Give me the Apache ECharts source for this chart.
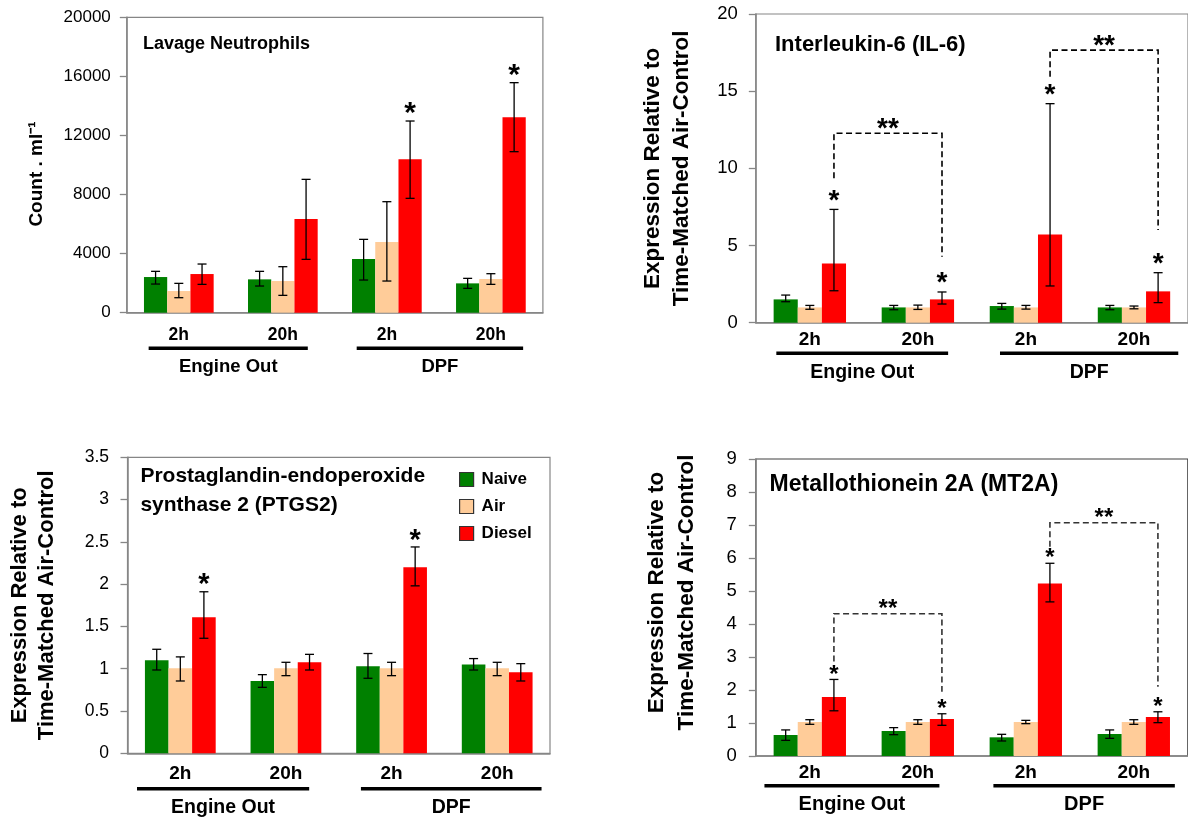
<!DOCTYPE html>
<html>
<head>
    <meta charset="utf-8">
    <title>Lavage neutrophils and gene expression</title>
    <script src="https://cdn.jsdelivr.net/npm/echarts@6/dist/echarts.min.js"></script>
    <style>
        html, body { margin: 0; padding: 0; background: #fff; }
    </style>
</head>
<body>
    <div id="myChart" style="width: 1188px;height:822px;"></div>
    <script>
        var categories = ['2h', '20h', '2h', '20h'];
        var groups = ['Engine Out', 'DPF'];
        var seriesNames = ['Naive', 'Air', 'Diesel'];
        var colors = ['#008000', '#FFCC99', '#FF0000'];

        // Lavage neutrophils (count . ml-1)
        var neutNaive = [2415, 2257, 3634, 1986];
        var neutAir = [1467, 2144, 4785, 2280];
        var neutDiesel = [2618, 6343, 10383, 13226];
        var neutNaiveErr = [[1940, 2800], [1806, 2800], [2212, 4966], [1648, 2325]];
        var neutAirErr = [[1016, 1986], [1174, 3115], [2144, 7516], [1919, 2641]];
        var neutDieselErr = [[1918, 3295], [3611, 9028], [7742, 12978], [10902, 15574]];
        var neutStars = [0, 0, 1, 1];
        var neutBrackets = [];

        // IL-6
        var il6Naive = [1.51, 0.99, 1.08, 0.99];
        var il6Air = [0.99, 0.99, 0.99, 0.99];
        var il6Diesel = [3.84, 1.51, 5.72, 2.03];
        var il6NaiveErr = [[1.36, 1.79], [0.84, 1.12], [0.88, 1.25], [0.84, 1.12]];
        var il6AirErr = [[0.87, 1.12], [0.86, 1.14], [0.88, 1.12], [0.9, 1.08]];
        var il6DieselErr = [[2.07, 7.34], [1.21, 1.99], [2.38, 14.19], [1.30, 3.24]];
        var il6Stars = [1, 1, 1, 1];
        // [from, to, top, left end, right end]
        var il6Brackets = [[0, 1, 12.27, 9.36, 4.28], [2, 3, 17.66, 15.94, 6.0]];

        // PTGS2
        var ptgsNaive = [1.10, 0.855, 1.03, 1.05];
        var ptgsAir = [1.005, 1.005, 1.005, 1.005];
        var ptgsDiesel = [1.61, 1.076, 2.20, 0.958];
        var ptgsNaiveErr = [[0.985, 1.23], [0.78, 0.93], [0.887, 1.18], [0.985, 1.12]];
        var ptgsAirErr = [[0.855, 1.14], [0.918, 1.076], [0.918, 1.076], [0.918, 1.076]];
        var ptgsDieselErr = [[1.36, 1.91], [0.985, 1.17], [1.98, 2.44], [0.855, 1.06]];
        var ptgsStars = [1, 0, 1, 0];
        var ptgsBrackets = [];

        // MT2A
        var mtNaive = [0.636, 0.757, 0.566, 0.667];
        var mtAir = [1.03, 1.03, 1.03, 1.03];
        var mtDiesel = [1.79, 1.12, 5.23, 1.18];
        var mtNaiveErr = [[0.475, 0.79], [0.646, 0.86], [0.455, 0.657], [0.535, 0.79]];
        var mtAirErr = [[0.96, 1.1], [0.96, 1.1], [0.98, 1.08], [0.96, 1.1]];
        var mtDieselErr = [[1.37, 2.32], [0.93, 1.28], [4.67, 5.84], [1.01, 1.34]];
        var mtStars = [1, 1, 1, 1];
        var mtBrackets = [[0, 1, 4.31, 2.86, 1.95], [2, 3, 7.07, 6.34, 2.1]];

        var FONT = '"Liberation Sans", Arial, sans-serif';
        var GAP = 0.33; // bar category gap

        var panels = [
            {
                values: [neutNaive, neutAir, neutDiesel], errs: [neutNaiveErr, neutAirErr, neutDieselErr],
                stars: neutStars, brackets: neutBrackets,
                grid: { left: 126.8, top: 17.3, width: 416.1, height: 295.4 },
                max: 20000, step: 4000, frame: '#868686',
                tickFont: 17, tickGap: 16, catFont: 17.5, catGap: 13,
                yName: 'Count . ml⁻¹', nameFont: 19, nameLH: 22, nameGap: 79, namePad: [0, 18, 0, 0],
                title: 'Lavage Neutrophils', titleX: 142.9, titleY: 35, titleFont: 18, titleLH: 18,
                groupFont: 18.5, lineDy: 35.6, labelDy: 54.3,
                spans: [[-0.29, 0.24], [-0.29, 0.31]],
                starFont: 30, starLift: 14, dash: '#000'
            },
            {
                values: [il6Naive, il6Air, il6Diesel], errs: [il6NaiveErr, il6AirErr, il6DieselErr],
                stars: il6Stars, brackets: il6Brackets,
                grid: { left: 755.8, top: 14, width: 433.6, height: 308.7 },
                max: 20, step: 5, frame: '#868686',
                tickFont: 18.5, tickGap: 18, catFont: 19, catGap: 8,
                yName: 'Expression Relative to\nTime-Matched Air-Control', nameFont: 22.5, nameLH: 29, nameGap: 60, namePad: [0, 0, 0, 0],
                title: 'Interleukin-6 (IL-6)', titleX: 775, titleY: 34, titleFont: 22, titleLH: 22,
                groupFont: 19.5, lineDy: 30.6, labelDy: 50.3,
                spans: [[-0.31, 0.28], [-0.24, 0.41]],
                starFont: 28, starLift: 15, dash: '#000'
            },
            {
                values: [ptgsNaive, ptgsAir, ptgsDiesel], errs: [ptgsNaiveErr, ptgsAirErr, ptgsDieselErr],
                stars: ptgsStars, brackets: ptgsBrackets,
                grid: { left: 127.5, top: 457.3, width: 422.5, height: 296 },
                max: 3.5, step: 0.5, frame: '#868686',
                tickFont: 17.5, tickGap: 18.5, catFont: 19, catGap: 11,
                yName: 'Expression Relative to\nTime-Matched Air-Control', nameFont: 22, nameLH: 27, nameGap: 67, namePad: [0, 0, 0, 0],
                title: 'Prostaglandin-endoperoxide\nsynthase 2 (PTGS2)', titleX: 140.4, titleY: 462.5, titleFont: 21, titleLH: 28.3,
                groupFont: 19.5, lineDy: 35.4, labelDy: 54.7,
                spans: [[-0.41, 0.22], [-0.29, 0.42]],
                starFont: 29, starLift: 13, dash: '#000'
            },
            {
                values: [mtNaive, mtAir, mtDiesel], errs: [mtNaiveErr, mtAirErr, mtDieselErr],
                stars: mtStars, brackets: mtBrackets,
                grid: { left: 755.8, top: 459, width: 432, height: 297 },
                max: 9, step: 1, frame: '#404040',
                tickFont: 18.5, tickGap: 19, catFont: 19, catGap: 7,
                yName: 'Expression Relative to\nTime-Matched Air-Control', nameFont: 22.5, nameLH: 30, nameGap: 54, namePad: [0, 0, 0, 30],
                title: 'Metallothionein 2A (MT2A)', titleX: 769.6, titleY: 473.5, titleFont: 23, titleLH: 23,
                groupFont: 20, lineDy: 29.7, labelDy: 48.7,
                spans: [[-0.42, 0.20], [-0.30, 0.38]],
                starFont: 24, starLift: 10, dash: '#333'
            }
        ];

        function barOffset(api, s) {
            var band = api.size([1, 0])[0];
            var bw = band * (1 - GAP) / 3;
            return (s - 1) * bw;
        }

        function makeErrRender(s, p) {
            return function (params, api) {
                var idx = api.value(0);
                var x = api.coord([idx, 0])[0] + barOffset(api, s);
                var lo = api.coord([idx, api.value(1)])[1];
                var hi = api.coord([idx, api.value(2)])[1];
                var w = 4.5;
                var st = { stroke: '#000', lineWidth: 1.3 };
                var kids = [
                    { type: 'line', shape: { x1: x, y1: lo, x2: x, y2: hi }, style: st },
                    { type: 'line', shape: { x1: x - w, y1: lo, x2: x + w, y2: lo }, style: st },
                    { type: 'line', shape: { x1: x - w, y1: hi, x2: x + w, y2: hi }, style: st }
                ];
                if (api.value(3)) {
                    kids.push({
                        type: 'text',
                        style: {
                            text: '*', x: x, y: hi - p.starLift + 0.23 * p.starFont,
                            align: 'center', verticalAlign: 'middle',
                            font: 'bold ' + p.starFont + 'px ' + FONT, fill: '#000'
                        }
                    });
                }
                return { type: 'group', children: kids };
            };
        }

        function makeBracketRender(p) {
            return function (params, api) {
                var off = barOffset(api, 2);
                var x1 = api.coord([api.value(0), 0])[0] + off;
                var x2 = api.coord([api.value(1), 0])[0] + off;
                var yt = api.coord([0, api.value(2)])[1];
                var y1 = api.coord([0, api.value(3)])[1];
                var y2 = api.coord([0, api.value(4)])[1];
                return {
                    type: 'group',
                    children: [
                        {
                            type: 'polyline',
                            shape: { points: [[x1, y1], [x1, yt], [x2, yt], [x2, y2]] },
                            style: { stroke: p.dash, lineWidth: 1.6, lineDash: [6, 3.5], fill: null }
                        },
                        {
                            type: 'text',
                            style: {
                                text: '**', x: (x1 + x2) / 2, y: yt - 10 + 0.23 * p.starFont,
                                align: 'center', verticalAlign: 'middle',
                                font: 'bold ' + p.starFont + 'px ' + FONT, fill: '#000'
                            }
                        }
                    ]
                };
            };
        }

        var grids = [], xAxes = [], yAxes = [], series = [], titles = [];

        panels.forEach(function (p, i) {
            grids.push({
                left: p.grid.left, top: p.grid.top, width: p.grid.width, height: p.grid.height,
                show: true, borderColor: p.frame, borderWidth: 1.2, backgroundColor: 'transparent'
            });
            xAxes.push({
                gridIndex: i, type: 'category', data: categories,
                axisTick: { show: false },
                axisLine: { lineStyle: { color: '#868686', width: 1.5 } },
                axisLabel: { margin: p.catGap, fontSize: p.catFont, fontWeight: 'bold', color: '#000', fontFamily: FONT, interval: 0 }
            });
            yAxes.push({
                gridIndex: i, type: 'value', min: 0, max: p.max, interval: p.step,
                splitLine: { show: false },
                axisLine: { show: true, lineStyle: { color: '#868686', width: 1.5 } },
                axisTick: { show: true, length: 7, lineStyle: { color: '#868686', width: 1.3 } },
                axisLabel: {
                    margin: p.tickGap, fontSize: p.tickFont, color: '#000', fontFamily: FONT,
                    formatter: function (v) { return String(v); }
                },
                name: p.yName, nameLocation: 'middle', nameGap: p.nameGap,
                nameTextStyle: {
                    fontSize: p.nameFont, fontWeight: 'bold', color: '#000', fontFamily: FONT,
                    lineHeight: p.nameLH, padding: p.namePad
                }
            });
            titles.push({
                text: p.title, left: p.titleX, top: p.titleY, padding: 0,
                textStyle: { fontSize: p.titleFont, fontWeight: 'bold', color: '#000', fontFamily: FONT, lineHeight: p.titleLH }
            });
            for (var s = 0; s < 3; s++) {
                series.push({
                    type: 'bar', name: seriesNames[s], xAxisIndex: i, yAxisIndex: i,
                    data: p.values[s], barGap: '0%', barCategoryGap: (GAP * 100) + '%',
                    itemStyle: { color: colors[s] }, silent: true
                });
            }
            for (var s2 = 0; s2 < 3; s2++) {
                series.push({
                    type: 'custom', xAxisIndex: i, yAxisIndex: i, z: 5, silent: true,
                    renderItem: makeErrRender(s2, p),
                    encode: { x: 0, y: [1, 2] },
                    data: p.errs[s2].map(function (e, k) {
                        return [k, e[0], e[1], s2 === 2 ? p.stars[k] : 0];
                    })
                });
            }
            if (p.brackets.length) {
                series.push({
                    type: 'custom', xAxisIndex: i, yAxisIndex: i, z: 6, silent: true,
                    renderItem: makeBracketRender(p),
                    encode: { x: [0, 1], y: [2, 3, 4] },
                    data: p.brackets
                });
            }
        });

        var option = {
            animation: false,
            backgroundColor: '#fff',
            title: titles,
            legend: {
                data: seriesNames, orient: 'vertical', left: 459, top: 471, padding: 0,
                itemWidth: 14, itemHeight: 14, itemGap: 10, icon: 'rect',
                itemStyle: { borderColor: '#333', borderWidth: 1.2 },
                textStyle: { fontSize: 17, fontWeight: 'bold', color: '#000', fontFamily: FONT, lineHeight: 17, padding: [0, 0, 0, 3] },
                selectedMode: false
            },
            grid: grids,
            xAxis: xAxes,
            yAxis: yAxes,
            series: series
        };

        var myChart = echarts.init(document.getElementById('myChart'));
        myChart.setOption(option);

        // group lines and labels below the category labels
        var graphics = [];
        panels.forEach(function (p, i) {
            var c0 = myChart.convertToPixel({ gridIndex: i }, [0, 0]);
            var c1 = myChart.convertToPixel({ gridIndex: i }, [1, 0]);
            var band = c1[0] - c0[0];
            groups.forEach(function (name, g) {
                var a = myChart.convertToPixel({ gridIndex: i }, [g * 2, 0]);
                var b = myChart.convertToPixel({ gridIndex: i }, [g * 2 + 1, 0]);
                var x1 = a[0] + p.spans[g][0] * band;
                var x2 = b[0] + p.spans[g][1] * band;
                graphics.push({
                    type: 'line', silent: true,
                    shape: { x1: x1, y1: a[1] + p.lineDy, x2: x2, y2: a[1] + p.lineDy },
                    style: { stroke: '#000', lineWidth: 3.5 }
                });
                graphics.push({
                    type: 'text', silent: true,
                    style: {
                        text: name, x: (x1 + x2) / 2, y: a[1] + p.labelDy,
                        align: 'center', verticalAlign: 'middle',
                        font: 'bold ' + p.groupFont + 'px ' + FONT, fill: '#000'
                    }
                });
            });
        });
        myChart.setOption({ graphic: graphics });
    </script>
</body>
</html>
